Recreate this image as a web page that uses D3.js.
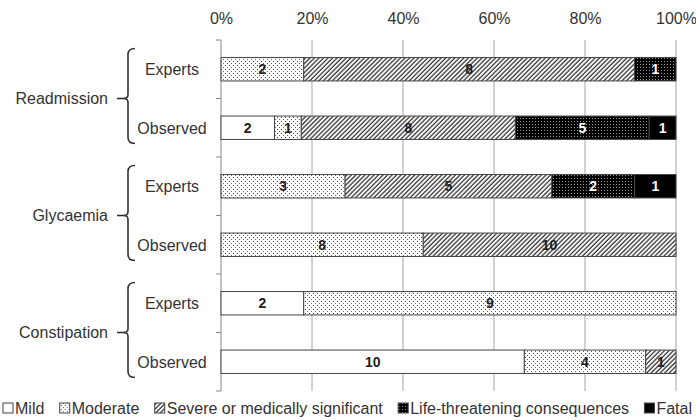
<!DOCTYPE html>
<html>
<head>
<meta charset="utf-8">
<script src="https://cdn.jsdelivr.net/npm/d3@7"></script>
<style>
  body { margin: 0; background: #fff; }
  text { font-family: "Liberation Sans", Arial, sans-serif; }
</style>
</head>
<body>
<div id="chart"></div>
<script>
// chart data
var groups = ["Readmission", "Glycaemia", "Constipation"];
var sources = ["Experts", "Observed"];
var categories = ["Mild", "Moderate", "Severe or medically significant", "Life-threatening consequences", "Fatal"];
// one value per row: Readmission Experts, Readmission Observed, Glycaemia Experts, ...
var mild       = [0, 2, 0, 0, 2, 10];
var moderate   = [2, 1, 3, 8, 9, 4];
var severe     = [8, 8, 5, 10, 0, 1];
var lifeThreat = [1, 5, 2, 0, 0, 0];
var fatal      = [0, 1, 1, 0, 0, 0];
var xTicks = [0, 0.2, 0.4, 0.6, 0.8, 1];

var width = 696, height = 420;
var fs = 16;
var fills = ["#fff", "url(#p-moderate)", "url(#p-severe)", "url(#p-life)", "#000"];
var textFill = ["#222", "#222", "#222", "#fff", "#fff"];

// build the table for the stack
var rows = [];
var series = [mild, moderate, severe, lifeThreat, fatal];
groups.forEach(function (g, gi) {
  sources.forEach(function (s, si) {
    var i = gi * 2 + si;
    var r = { key: g + "|" + s, group: g, source: s };
    categories.forEach(function (c, ci) { r[c] = series[ci][i]; });
    rows.push(r);
  });
});

var stacked = d3.stack().keys(categories).offset(d3.stackOffsetExpand)(rows);

var x = d3.scaleLinear().domain([0, 1]).range([221, 676]);
var y = d3.scaleBand().domain(rows.map(function (d) { return d.key; }))
  .range([40, 391]).paddingInner(0.6).paddingOuter(0.3);

var svg = d3.select("#chart").append("svg")
  .attr("width", width).attr("height", height);

/* patterns */
var defs = svg.append("defs");
var pm = defs.append("pattern").attr("id", "p-moderate")
  .attr("patternUnits", "userSpaceOnUse").attr("width", 4).attr("height", 4);
pm.append("rect").attr("width", 4).attr("height", 4).attr("fill", "#fff");
pm.append("rect").attr("x", 1).attr("y", 1).attr("width", 1).attr("height", 1).attr("fill", "#444");
pm.append("rect").attr("x", 3).attr("y", 3).attr("width", 1).attr("height", 1).attr("fill", "#666");

var ps = defs.append("pattern").attr("id", "p-severe")
  .attr("patternUnits", "userSpaceOnUse").attr("width", 3.2).attr("height", 3.2)
  .attr("patternTransform", "rotate(45)");
ps.append("rect").attr("width", 3.2).attr("height", 3.2).attr("fill", "#fff");
ps.append("line").attr("x1", 1).attr("x2", 1).attr("y1", 0).attr("y2", 3.2)
  .attr("stroke", "#333").attr("stroke-width", 1.3);

var pl = defs.append("pattern").attr("id", "p-life")
  .attr("patternUnits", "userSpaceOnUse").attr("width", 3).attr("height", 3);
pl.append("rect").attr("width", 3).attr("height", 3).attr("fill", "#000");
pl.append("rect").attr("x", 1).attr("y", 1).attr("width", 1).attr("height", 1).attr("fill", "#999");

/* gridlines */
svg.append("g").selectAll("line").data(xTicks.slice(1)).enter().append("line")
  .attr("x1", function (d) { return x(d); }).attr("x2", function (d) { return x(d); })
  .attr("y1", 40).attr("y2", 391)
  .attr("stroke", "#a6a6a6").attr("stroke-width", 1);

/* top axis */
svg.append("g").attr("transform", "translate(0,36)")
  .call(d3.axisTop(x).tickValues(xTicks).tickFormat(d3.format(".0%")).tickSize(0).tickPadding(12))
  .call(function (g) { g.select(".domain").remove(); })
  .selectAll("text").attr("font-size", fs).attr("fill", "#333")
  .attr("font-family", "Liberation Sans, Arial, sans-serif");

/* left axis line with ticks at band boundaries */
var bounds = [];
rows.forEach(function (d) { bounds.push(y(d.key) - y.step() * 0.3); });
bounds.push(391);
svg.append("line").attr("x1", 221).attr("x2", 221).attr("y1", 40).attr("y2", 391)
  .attr("stroke", "#888");
svg.append("g").selectAll("line").data(bounds).enter().append("line")
  .attr("x1", 216).attr("x2", 221)
  .attr("y1", function (d) { return d; }).attr("y2", function (d) { return d; })
  .attr("stroke", "#888");

/* bars */
var layer = svg.append("g").selectAll("g").data(stacked).enter().append("g")
  .attr("fill", function (d, i) { return fills[i]; });

layer.selectAll("rect").data(function (d) { return d; }).enter().append("rect")
  .attr("x", function (d) { return x(d[0]); })
  .attr("width", function (d) { return x(d[1]) - x(d[0]); })
  .attr("y", function (d) { return y(d.data.key); })
  .attr("height", y.bandwidth())
  .attr("stroke", "#444").attr("stroke-width", 1);

layer.each(function (s, si) {
  d3.select(this).selectAll("text").data(s.filter(function (d) { return d.data[s.key] > 0; }))
    .enter().append("text")
    .attr("x", function (d) { return (x(d[0]) + x(d[1])) / 2; })
    .attr("y", function (d) { return y(d.data.key) + y.bandwidth() / 2; })
    .attr("dy", "0.36em")
    .attr("text-anchor", "middle")
    .attr("font-size", 14).attr("font-weight", "bold")
    .attr("fill", textFill[si])
    .text(function (d) { return d.data[s.key]; });
});

/* row labels */
svg.append("g").selectAll("text").data(rows).enter().append("text")
  .attr("x", 172)
  .attr("y", function (d) { return y(d.key) + y.bandwidth() / 2; })
  .attr("dy", "0.36em").attr("text-anchor", "middle")
  .attr("font-size", fs).attr("fill", "#333")
  .text(function (d) { return d.source; });

/* group labels with braces */
var grp = svg.append("g").selectAll("g").data(groups).enter().append("g");
function groupMid(g) {
  return (y(g + "|Experts") + y(g + "|Observed") + y.bandwidth()) / 2;
}
grp.append("text")
  .attr("x", 108)
  .attr("y", function (g) { return groupMid(g); })
  .attr("dy", "0.36em").attr("text-anchor", "end")
  .attr("font-size", fs).attr("fill", "#333")
  .text(function (g) { return g; });
grp.append("line")
  .attr("x1", 117).attr("x2", 125)
  .attr("y1", function (g) { return groupMid(g); })
  .attr("y2", function (g) { return groupMid(g); })
  .attr("stroke", "#333").attr("stroke-width", 1.6);
grp.append("path")
  .attr("fill", "none").attr("stroke", "#333").attr("stroke-width", 1.6)
  .attr("d", function (g) {
    var m = groupMid(g), t = m - 50, b = m + 45;
    return "M135," + t + " Q128," + t + " 128," + (t + 6) +
      " L128," + (m - 4) + " Q128," + m + " 124," + m +
      " Q128," + m + " 128," + (m + 4) +
      " L128," + (b - 6) + " Q128," + b + " 135," + b;
  });

/* legend: lay out items, then spread the gaps to fill the width */
var leg = svg.append("g").attr("transform", "translate(0,408)");
var items = [], used = 0;
categories.forEach(function (c, i) {
  var item = leg.append("g");
  item.append("rect").attr("x", 0).attr("y", -5).attr("width", 10).attr("height", 10)
    .attr("fill", fills[i]).attr("stroke", "#444").attr("stroke-width", 1);
  var t = item.append("text").attr("x", 12).attr("dy", "0.36em")
    .attr("font-size", fs).attr("fill", "#333").text(c);
  var w = 12 + t.node().getComputedTextLength();
  items.push({ g: item, w: w });
  used += w;
});
var gap = Math.max(4, (689 - used) / (items.length - 1));
var lx = 3;
items.forEach(function (it) {
  it.g.attr("transform", "translate(" + lx + ",0)");
  lx += it.w + gap;
});
</script>
</body>
</html>
